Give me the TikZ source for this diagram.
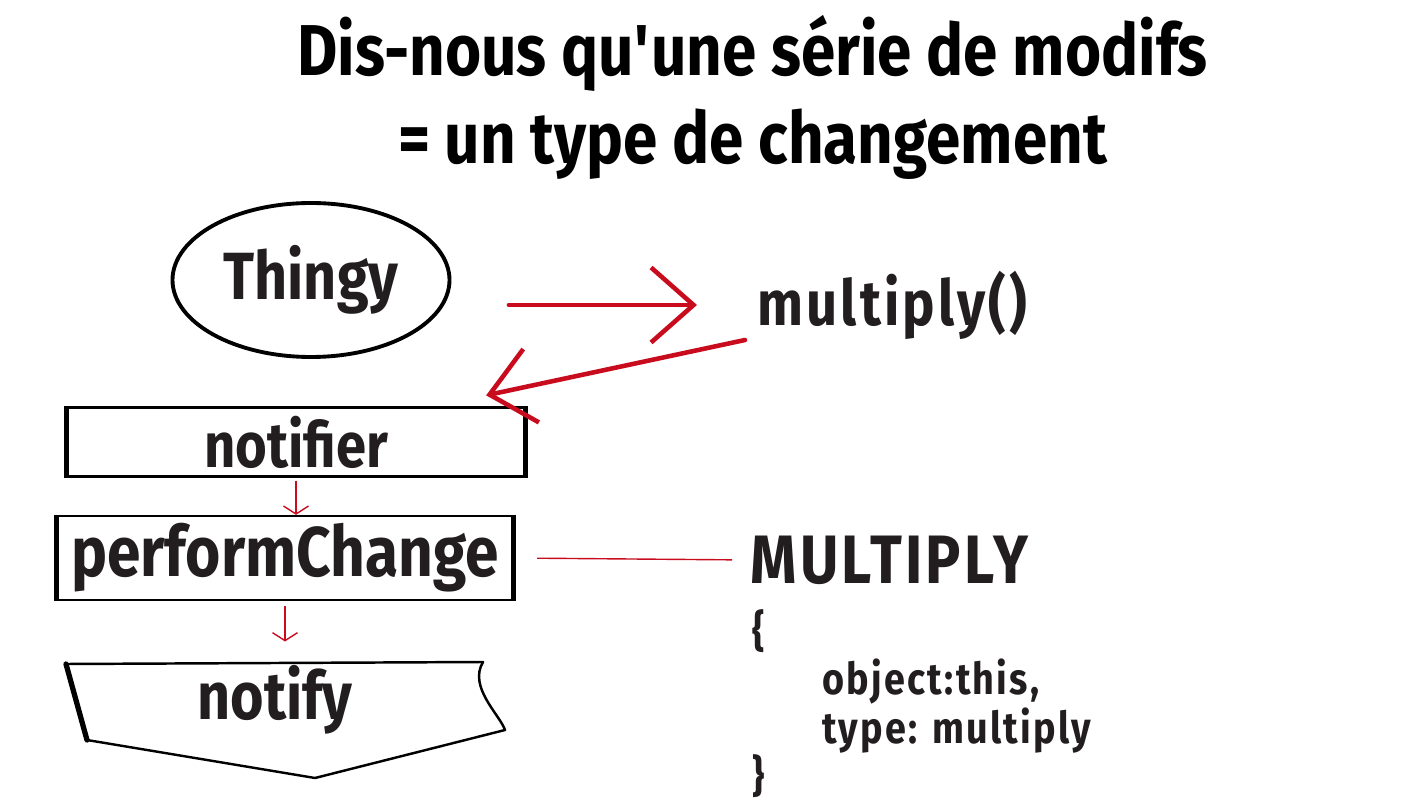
\documentclass[tikz,border=0pt]{standalone}
\usepackage{fontspec}
\setmainfont{Fira Sans}[FakeStretch=0.86]
\newfontfamily\spacedfont{Fira Sans}[FakeStretch=0.86, LetterSpace=5]
\usetikzlibrary{arrows.meta,positioning,shapes.geometric}

\definecolor{penred}{RGB}{200,12,30}
\definecolor{inkblack}{RGB}{34,30,32}

\tikzset{
  bigarrow/.style={draw=penred, line width=2.6pt, line cap=round,
    -{Straight Barb[length=0.85cm, width=1.5cm, line width=2.6pt]}},
  smallarrow/.style={draw=penred, line width=0.8pt,
    -{Straight Barb[length=0.16cm, width=0.5cm]}},
  thinred/.style={draw=penred, line width=0.8pt},
  boxnode/.style={draw=black, rectangle, line width=1.3pt, inner sep=0pt, text=inkblack},
  sideline/.style={draw=black, line width=3pt},
  word/.style={text=inkblack, inner sep=0pt}
}

\begin{document}
\begin{tikzpicture}

\useasboundingbox (0,0) rectangle (28.46,16.1);

\node [align=center, inner sep=0pt, font={\fontsize{41}{50}\selectfont\bfseries}] (title)
 at (15.05, 14.15) {Dis-nous qu\textquotesingle une série de modifs\\= un type de changement};


\node [draw=black, ellipse, line width=2.2pt, minimum width=5.54cm, minimum height=3.08cm,
text=inkblack, font={\fontsize{38}{40}\selectfont\bfseries}] (thingy)
 at (6.22, 10.5) {\raisebox{-4pt}{Thingy}};


\node [word, anchor=west, font={\fontsize{36}{38}\selectfont\spacedfont\bfseries}] (multiply)
 at (15.14, 10.0) {multiply()};


\node [boxnode, minimum width=9.12cm, minimum height=1.38cm,
font={\fontsize{36}{38}\selectfont\bfseries}] (notifier)
 at (5.92, 7.26) {notifier};
\draw [sideline] (notifier.north west) -- (notifier.south west);
\draw [sideline] (notifier.north east) -- (notifier.south east);


\node [boxnode, minimum width=9.08cm, minimum height=1.68cm,
font={\fontsize{40}{42}\selectfont\bfseries}] (perform)
 at (5.7, 4.94) {performChange};
\draw [sideline] (perform.north west) -- (perform.south west);
\draw [sideline] (perform.north east) -- (perform.south east);


\node [word, font={\fontsize{38}{40}\selectfont\bfseries}] (notify)
 at (5.5, 2.1) {notify};

% outline round notify
\begin{scope}[shift={(notify.center)}]
\coordinate (ntl) at (-4.18, 0.72);
\coordinate (ntr) at (4.16, 0.76);
\coordinate (nrb) at (4.6, -0.6);
\coordinate (nbot) at (0.8, -1.56);
\coordinate (nlb) at (-3.76, -0.8);
\end{scope}
\draw [line width=1.4pt, line join=round] (ntl) -- (ntr) .. controls ([shift={(-0.3,-0.5)}]ntr) and ([shift={(-0.1,0.3)}]nrb) .. (nrb)
 -- (nbot) -- (nlb) -- cycle;
\draw [sideline, line cap=round] (ntl) -- (nlb);


\node [word, anchor=west, font={\fontsize{39}{42}\selectfont\spacedfont\bfseries}] (multconst)
 at (15.0, 4.9) {MULTIPLY};


\node [word, anchor=north west, align=left, font={\fontsize{25}{27.6}\selectfont\spacedfont\bfseries}] (payload)
 at (15.04, 3.92) {\{\\\hspace*{1.4cm}object:this,\\\hspace*{1.4cm}type: multiply\\\}};


% red arrows
\draw [bigarrow] ([xshift=1.15cm, yshift=-0.5cm]thingy.east) -- ([xshift=-1.2cm]multiply.west);
\draw [bigarrow] ([xshift=-0.24cm, yshift=-0.7cm]multiply.west) -- ([xshift=-0.78cm, yshift=0.22cm]notifier.north east);

\draw [smallarrow, shorten <=0.06cm] (notifier.south) -- (notifier.south |- perform.north);
\draw [smallarrow, shorten <=0.1cm, shorten >=0.45cm] (perform.south) -- (perform.south |- ntl);

\draw [thinred, shorten <=0.48cm, shorten >=0.36cm] (perform.east) -- (multconst.west);

\end{tikzpicture}
\end{document}
